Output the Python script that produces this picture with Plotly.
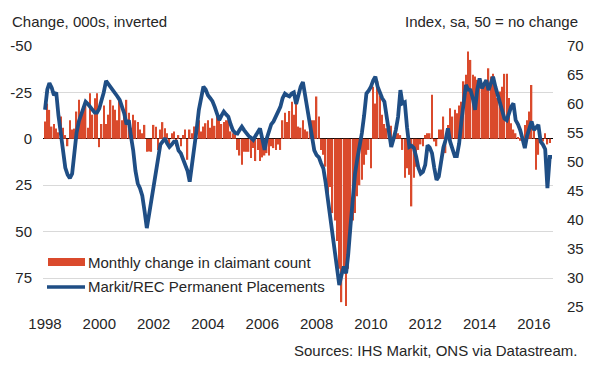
import plotly.graph_objects as go
import pandas as pd

# Markit/REC Permanent Placements index (monthly, Jan 1998 - Sep 2016)
placements = [
    59.0, 62.5, 63.6, 62.8, 61.5, 62.0, 58.0, 54.5, 51.0, 49.0, 47.8, 47.2,  # 1998
    48.0, 51.5, 55.0, 57.0, 58.1, 59.0, 60.4, 60.0, 59.5, 59.2, 58.5, 58.5,  # 1999
    59.2, 60.7, 62.0, 64.0, 63.5, 62.8, 62.4, 62.0, 61.3, 60.7, 59.5, 58.4,  # 2000
    56.5, 57.2, 54.5, 52.0, 48.5, 46.3, 45.5, 44.2, 41.5, 38.6, 41.0, 43.4,  # 2001
    46.5, 49.2, 51.5, 53.0, 53.5, 54.1, 53.2, 52.6, 53.0, 53.5, 53.5, 52.0,  # 2002
    51.5, 50.3, 49.5, 48.5, 46.6, 49.5, 51.5, 55.5, 59.0, 61.0, 63.0, 62.5,  # 2003
    61.5, 61.0, 60.5, 59.5, 58.5, 57.2, 58.0, 58.7, 58.2, 57.8, 56.5, 55.5,  # 2004
    55.0, 54.9, 55.5, 56.1, 55.5, 54.9, 54.5, 54.2, 53.8, 54.5, 55.2, 55.8,  # 2005
    54.0, 52.1, 54.0, 55.5, 56.5, 57.0, 57.8, 58.8, 59.5, 61.0, 61.8, 61.5,  # 2006
    61.3, 61.8, 62.0, 60.0, 61.5, 63.0, 63.8, 61.0, 59.0, 56.7, 54.0, 52.0,  # 2007
    51.2, 50.8, 49.8, 48.9, 46.5, 43.5, 41.0, 38.5, 34.5, 31.5, 28.8, 30.5,  # 2008
    32.0, 30.8, 34.0, 39.0, 44.0, 48.0, 50.5, 52.5, 55.0, 58.0, 61.8, 62.3,  # 2009
    63.0, 64.1, 64.7, 63.0, 61.8, 61.0, 60.4, 57.5, 54.5, 52.6, 54.0, 55.5,  # 2010
    57.8, 62.4, 60.1, 60.3, 56.0, 52.6, 52.8, 52.4, 50.9, 49.0, 48.0, 48.3,  # 2011
    49.5, 52.9, 52.5, 51.5, 49.0, 46.9, 47.5, 50.0, 52.5, 53.8, 55.8, 53.5,  # 2012
    52.0, 51.0, 51.0, 53.2, 57.0, 60.5, 63.3, 62.5, 62.4, 61.0, 59.0, 62.5,  # 2013
    64.4, 62.7, 63.5, 64.1, 62.4, 63.5, 64.7, 63.0, 61.5, 60.0, 58.5, 57.5,  # 2014
    57.2, 58.5, 59.5, 60.1, 57.2, 56.5, 55.5, 54.0, 52.4, 54.5, 56.0, 57.0,  # 2015
    55.5, 56.0, 56.4, 53.5, 53.0, 52.2, 45.5, 50.9, 50.9,                    # 2016
]

# Monthly change in claimant count, 000s (Jan 1998 - Aug 2016)
claimant_change = [
    -9.3, -19, -15.6, -6.6, -8, -5.5, -3.5, -12, -6, -2, 4, -10,            # 1998
    -5, -5.5, -14.7, -21, -12, -16, -20, -6, -24.6, -13, -21.9, -24.6,      # 1999
    4.5, -8, -18, -8, -13, -21, -18, -15.6, -10, -21, -10, -12,             # 2000
    -21, -14, -6, -13, -10, -9, -5, -3, -7.5, 7, 6.8, 7,                    # 2001
    -7.5, -6.5, 6, -5, -9, -5.7, -3, 3, -3, -4, 4, -2,                      # 2002
    4, -2, -5, 11.3, -5, -3, -6.6, -5.7, -10, -4, -6.6, -8.4,               # 2003
    -10, -6, -11, -7, -13, -12, -8, -9, -10, -10, -4, -3,                   # 2004
    -2, 6, 9, 14, 7, 7, 7, 10.4, 5, 12, 6, 12,                              # 2005
    10, 9, 7.7, 9, 4, 5, 6, 3, 6, -10, -14, -9,                             # 2006
    -15, -20, -13, -21, -6.6, -6, -10, -5, -4, -9, -10, -10,                # 2007
    -22.8, -12, 6, 8.6, 15, 34, 26, 40, 44, 55, 70, 88,                     # 2008
    69, 90, 70, 51, 44, 40, 31, 25, 22, 14, 8.6, 6,                         # 2009
    15.8, -28, -19, -31, -23, -13, -8, -5.7, -5, -7, -1, -3,                # 2010
    -3, -2, 6, 21, 15.8, 19.4, 36.4, 21, 15, 6, 3, 4,                       # 2011
    -2, -3, -3, -23.7, 1.5, 4, -5, -5, -12, 7.7, -7.5, -16.5,               # 2012
    -12, -15.6, -13.8, -18, -20, -31, -34.5, -47, -42.5, -34.5, -33.6, -31.8,  # 2013
    -30, -28, -30, -30, -38, -33.6, -35, -28, -22, -25.5, -28, -35,         # 2014
    -35, -22, -8.4, -5, -3, -1, 1, -1, -7.5, -10, -14.7, -29,               # 2015
    -5.7, 16.7, 8.6, 0.5, 1.5, -3, 3, 2.3,                                  # 2016
]

line_dates = pd.date_range("1998-01-01", periods=len(placements), freq="MS")
bar_dates = pd.date_range("1998-01-01", periods=len(claimant_change), freq="MS")

year_ticks = [f"{y}-01-01" for y in range(1998, 2017, 2)]
year_labels = [str(y) for y in range(1998, 2017, 2)]
left_ticks = [-50, -25, 0, 25, 50, 75]
left_labels = ["-50", "-25", "0", "25", "50", "75"]
right_ticks = [25, 30, 35, 40, 45, 50, 55, 60, 65, 70]

bar_name = "Monthly change in claimant count"
line_name = "Markit/REC Permanent Placements"

RED = "#DA4A2C"
BLUE = "#1F4E85"
TXT = "#262626"
FONT = "Arial, Liberation Sans, sans-serif"
FS = 15

fig = go.Figure()
fig.add_trace(go.Bar(x=bar_dates, y=claimant_change, name=bar_name,
                     marker=dict(color=RED, line=dict(width=0)), yaxis="y"))
fig.add_trace(go.Scatter(x=line_dates, y=placements, name=line_name, mode="lines",
                         line=dict(color=BLUE, width=3.8), yaxis="y2"))

L, R, T, B = 43, 553, 46, 307
W, H = 590, 375
def px(x):
    return (x - L) / (R - L)
def py(y):
    return (B - y) / (B - T)

shapes = [
    dict(type="rect", xref="paper", yref="paper", x0=px(48), x1=px(85), y0=py(266), y1=py(258),
         fillcolor=RED, line=dict(width=0)),
    dict(type="line", xref="paper", yref="paper", x0=px(47), x1=px(85), y0=py(287), y1=py(287),
         line=dict(color=BLUE, width=3.6)),
]
annotations = [
    dict(text=bar_name, x=px(86), y=py(262), xref="paper", yref="paper", xanchor="left",
         yanchor="middle", showarrow=False, font=dict(size=FS, color=TXT, family=FONT)),
    dict(text=line_name, x=px(86), y=py(286), xref="paper", yref="paper", xanchor="left",
         yanchor="middle", showarrow=False, font=dict(size=FS, color=TXT, family=FONT)),
    dict(text="Change, 000s, inverted", x=px(10), y=py(21), xref="paper", yref="paper",
         xanchor="left", yanchor="middle", showarrow=False, font=dict(size=FS, color=TXT, family=FONT)),
    dict(text="Index, sa, 50 = no change", x=px(580), y=py(21), xref="paper", yref="paper",
         xanchor="right", yanchor="middle", showarrow=False, font=dict(size=FS, color=TXT, family=FONT)),
    dict(text="Sources: IHS Markit, ONS via Datastream.", x=px(579), y=py(350), xref="paper",
         yref="paper", xanchor="right", yanchor="middle", showarrow=False,
         font=dict(size=FS, color=TXT, family=FONT)),
]

fig.update_layout(
    width=W, height=H,
    margin=dict(l=L, r=W - R, t=T, b=H - B),
    paper_bgcolor="white", plot_bgcolor="white",
    showlegend=False,
    bargap=0.3,
    font=dict(family=FONT, size=FS, color=TXT),
    shapes=shapes, annotations=annotations,
    xaxis=dict(type="date", range=["1997-12-05", "2016-09-14"], tickvals=year_ticks,
               ticktext=year_labels, showgrid=False, zeroline=False, showline=False,
               automargin=False,
               ticks="", ticklabelstandoff=6, tickfont=dict(size=FS, color=TXT)),
    yaxis=dict(range=[90.6, -50], tickvals=left_ticks, ticktext=left_labels,
               showgrid=True, gridcolor="#D9D9D9", gridwidth=1,
               zeroline=True, zerolinecolor="#000000", zerolinewidth=1,
               showline=False, ticks="", ticklabelstandoff=10, automargin=False,
               tickfont=dict(size=FS, color=TXT)),
    yaxis2=dict(range=[25, 70], tickvals=right_ticks, overlaying="y", side="right",
                showgrid=False, zeroline=False, showline=False, ticks="", automargin=False,
                ticklabelstandoff=13, tickfont=dict(size=FS, color=TXT)),
)

fig.write_html("out.html", config={"displayModeBar": False},
               post_script="document.body.style.margin='0';document.body.style.overflow='hidden';")
